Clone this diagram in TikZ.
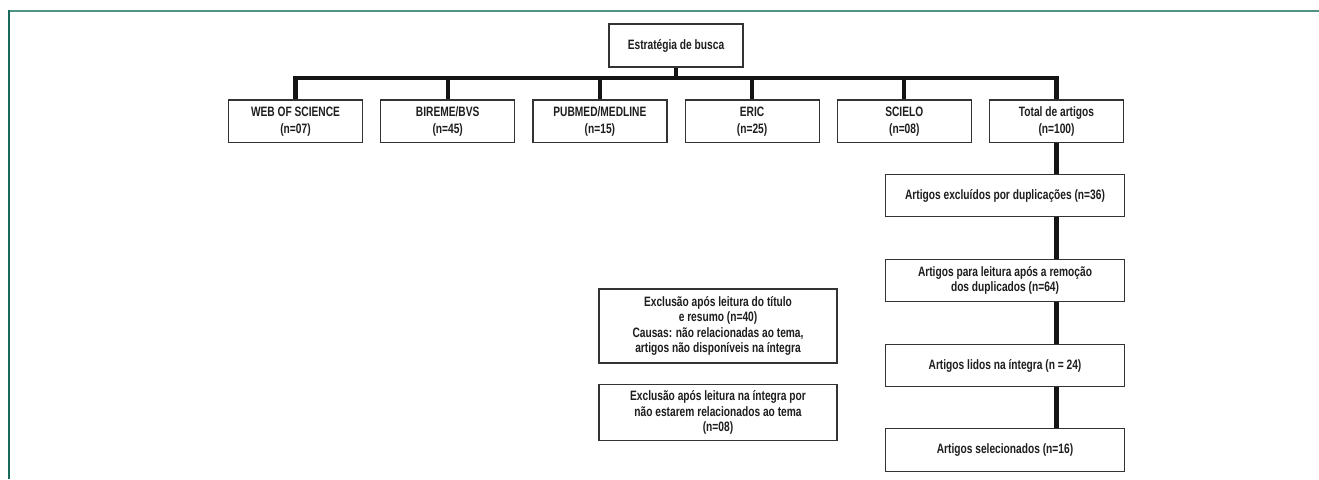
\documentclass[tikz,border=0pt]{standalone}
\usepackage{fontspec}
\setmainfont{Liberation Sans}[FakeStretch=0.75,UprightFont=*-Bold]
\definecolor{frametop}{HTML}{4F9485}
\definecolor{frameleft}{HTML}{1A6A5B}
\definecolor{boxline}{HTML}{333333}
\definecolor{connline}{HTML}{141414}
\definecolor{txt}{HTML}{1E1E1E}
\begin{document}
\begin{tikzpicture}[x=1pt,y=-1pt,
  fbox/.style={draw=boxline, line width=1.2pt, fill=white, align=center,
    inner sep=0pt, text=txt, font=\fontsize{13.6pt}{15.3pt}\selectfont},
  rowbox/.style={fbox, minimum width=134pt, minimum height=42.5pt,
    font=\fontsize{13.6pt}{17pt}\selectfont},
  colbox/.style={fbox, minimum width=239pt, minimum height=42.3pt},
  conn/.style={draw=connline, line width=4.3pt, line join=miter}]
\useasboundingbox (0,0) rectangle (1319,479);
% frame
\draw[frametop, line width=2.4pt] (8,11) -- (1319,11);
\draw[frameleft, line width=2pt] (9,10) -- (9,479);
% nodes
\node[rowbox, minimum height=43pt] (est) at (676,45.5) {Estratégia de busca};
\node[rowbox] (web) at (295.5,121.2) {WEB OF SCIENCE\\(n=07)};
\node[rowbox] (bir) at (447.7,121.2) {BIREME/BVS\\(n=45)};
\node[rowbox] (pub) at (599.9,121.2) {PUBMED/MEDLINE\\(n=15)};
\node[rowbox] (eric) at (752.1,121.2) {ERIC\\(n=25)};
\node[rowbox] (sci) at (904.3,121.2) {SCIELO\\(n=08)};
\node[rowbox] (tot) at (1056.5,121.2) {Total de artigos\\(n=100)};
\node[colbox] (excl) at (1005,195.5) {Artigos excluídos por duplicações (n=36)};
\node[colbox] (para) at (1005,280.5) {Artigos para leitura após a remoção\\dos duplicados (n=64)};
\node[colbox] (lid) at (1005,365.5) {Artigos lidos na íntegra (n = 24)};
\node[colbox] (sel) at (1005,450) {Artigos selecionados (n=16)};
\node[fbox, minimum width=238pt, minimum height=74pt] (ex1) at (718,326)
  {Exclusão após leitura do título\\e resumo (n=40)\\Causas: não relacionadas ao tema,\\artigos não disponíveis na íntegra};
\node[fbox, minimum width=238pt, minimum height=56.5pt] (ex2) at (718,412.5)
  {Exclusão após leitura na íntegra por\\não estarem relacionados ao tema\\(n=08)};
% connectors
\coordinate (busM) at (676,78);
\draw[conn] (est.south) -- (busM);
\draw[conn] (web.north) -- (web.north |- busM) -- (tot.north |- busM) -- (tot.north);
\draw[conn] (bir.north) -- (bir.north |- busM);
\draw[conn] (pub.north) -- (pub.north |- busM);
\draw[conn] (eric.north) -- (eric.north |- busM);
\draw[conn] (sci.north) -- (sci.north |- busM);
\draw[conn] (tot.south) -- (tot.south |- excl.north);
\draw[conn] (tot.south |- excl.south) -- (tot.south |- para.north);
\draw[conn] (tot.south |- para.south) -- (tot.south |- lid.north);
\draw[conn] (tot.south |- lid.south) -- (tot.south |- sel.north);
\end{tikzpicture}
\end{document}
